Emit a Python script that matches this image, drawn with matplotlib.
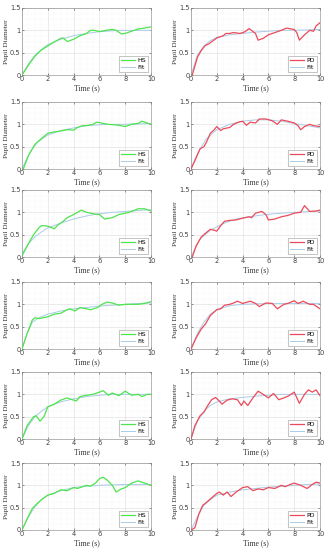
import matplotlib
matplotlib.use("Agg")
from matplotlib import pyplot as plt
from matplotlib.ticker import MultipleLocator

# ---- data (time in s, diameter normalised) ----
hs1_t = [0, 0.5, 1.0, 1.5, 2.0, 2.5, 3.0, 3.2, 3.5, 4.0, 4.5, 5.0, 5.3, 5.6, 6.0, 6.5, 7.0, 7.3, 7.7, 8.0, 8.5, 9.0, 9.5, 10]
hs1_y = [0, 0.22, 0.42, 0.56, 0.65, 0.74, 0.82, 0.83, 0.75, 0.8, 0.88, 0.93, 1.0, 1.0, 0.97, 1.0, 1.02, 1.0, 0.92, 0.93, 0.98, 1.03, 1.05, 1.08]
fit1_t = [0, 0.5, 1, 1.5, 2, 3, 4, 5, 6, 7, 8, 9, 10]
fit1_y = [0, 0.25, 0.44, 0.57, 0.68, 0.8, 0.88, 0.93, 0.97, 0.99, 1.0, 1.0, 1.0]

pd1_t = [0.1, 0.5, 0.8, 1.1, 1.4, 2.0, 2.5, 2.7, 3.0, 3.3, 3.8, 4.2, 4.5, 5.0, 5.2, 5.6, 6.0, 6.5, 7.0, 7.4, 8.0, 8.2, 8.4, 8.8, 9.2, 9.5, 9.7, 10]
pd1_y = [0, 0.4, 0.55, 0.66, 0.7, 0.83, 0.88, 0.93, 0.93, 0.95, 0.93, 0.97, 1.04, 0.93, 0.78, 0.82, 0.9, 0.95, 1.0, 1.05, 1.02, 0.95, 0.78, 0.9, 1.0, 0.98, 1.1, 1.17]
fit2_t = [0, 0.5, 1, 1.5, 2, 3, 4, 5, 6, 7, 8, 9, 10]
fit2_y = [0, 0.45, 0.65, 0.77, 0.84, 0.9, 0.93, 0.96, 0.98, 1.0, 1.0, 1.01, 1.02]

hs2_t = [0.1, 0.5, 1.0, 1.5, 2.0, 2.5, 3.0, 3.5, 4.0, 4.3, 4.7, 5.0, 5.5, 5.8, 6.3, 6.7, 7.5, 8.0, 8.5, 9.0, 9.3, 9.7, 10]
hs2_y = [0, 0.3, 0.55, 0.68, 0.8, 0.83, 0.85, 0.88, 0.87, 0.93, 0.97, 0.97, 1.0, 1.05, 1.02, 1.0, 0.98, 0.95, 1.0, 1.02, 1.07, 1.03, 1.0]
fit3_t = [0, 0.4, 0.8, 1.2, 2, 3, 4, 5, 6, 7, 8, 9, 10]
fit3_y = [0, 0.25, 0.45, 0.6, 0.76, 0.86, 0.92, 0.97, 0.99, 1.0, 1.0, 1.01, 1.02]

pd2_t = [0, 0.4, 0.7, 1.0, 1.2, 1.5, 1.8, 2.0, 2.3, 2.5, 3.0, 3.3, 3.7, 4.0, 4.3, 4.6, 5.0, 5.3, 5.8, 6.3, 6.7, 7.0, 7.5, 8.0, 8.3, 8.5, 8.8, 9.2, 9.5, 10]
pd2_y = [0, 0.25, 0.45, 0.5, 0.6, 0.8, 0.88, 0.95, 0.86, 0.9, 0.93, 1.0, 1.05, 1.07, 0.98, 1.05, 1.03, 1.12, 1.12, 1.08, 1.0, 1.1, 1.07, 1.03, 0.97, 0.88, 0.95, 1.0, 0.97, 0.95]
fit4_t = [0, 0.4, 0.7, 1.2, 2, 3, 4, 5, 6, 7, 8, 9, 10]
fit4_y = [0, 0.28, 0.45, 0.68, 0.88, 1.0, 1.07, 1.1, 1.1, 1.07, 1.02, 0.97, 0.92]

hs3_t = [0, 0.5, 0.9, 1.3, 1.5, 1.8, 2.2, 2.5, 2.8, 3.2, 3.5, 4.0, 4.3, 4.6, 5.0, 5.5, 6.0, 6.4, 7.0, 7.5, 8.0, 8.5, 9.0, 9.5, 10]
hs3_y = [0.05, 0.3, 0.5, 0.65, 0.7, 0.7, 0.67, 0.63, 0.72, 0.8, 0.88, 0.95, 1.0, 1.05, 1.0, 0.97, 0.95, 0.85, 0.88, 0.95, 0.98, 1.02, 1.08, 1.08, 1.03]
fit5_t = [0, 0.5, 1, 1.5, 2, 3, 4, 5, 6, 7, 8, 9, 10]
fit5_y = [0, 0.3, 0.45, 0.56, 0.65, 0.76, 0.85, 0.92, 0.97, 1.0, 1.02, 1.04, 1.06]

pd3_t = [0.1, 0.4, 0.8, 1.2, 1.5, 1.8, 2.0, 2.3, 2.6, 3.0, 3.5, 4.0, 4.5, 4.7, 5.0, 5.5, 5.8, 6.0, 6.5, 7.0, 7.5, 8.0, 8.5, 8.8, 9.2, 9.7, 10]
pd3_y = [0, 0.25, 0.45, 0.55, 0.62, 0.6, 0.58, 0.7, 0.8, 0.82, 0.83, 0.87, 0.9, 0.88, 0.98, 1.02, 0.95, 0.83, 0.85, 0.9, 0.93, 0.98, 1.0, 1.15, 1.02, 1.03, 1.05]
fit6_t = [0, 0.7, 1.5, 2.5, 3.5, 4.5, 5.5, 6.5, 8, 10]
fit6_y = [0, 0.4, 0.6, 0.75, 0.85, 0.9, 0.94, 0.97, 1.0, 1.03]

hs4_t = [0, 0.4, 0.8, 1.0, 1.3, 2.0, 2.5, 3.0, 3.5, 3.7, 4.1, 4.5, 5.0, 5.3, 5.8, 6.2, 6.6, 7.0, 7.5, 8.0, 9.0, 9.5, 10]
hs4_y = [0, 0.35, 0.65, 0.7, 0.68, 0.72, 0.78, 0.8, 0.88, 0.9, 0.85, 0.93, 0.9, 0.88, 0.92, 1.0, 1.05, 1.03, 0.98, 1.0, 1.0, 1.02, 1.06]
fit7_t = [0, 0.4, 0.8, 1.3, 2, 3, 4, 5, 6, 7, 8, 9, 10]
fit7_y = [0, 0.35, 0.6, 0.7, 0.78, 0.85, 0.9, 0.93, 0.96, 0.98, 1.0, 1.02, 1.03]

pd4_t = [0, 0.4, 0.8, 1.1, 1.5, 2.0, 2.3, 2.6, 3.0, 3.3, 3.6, 4.0, 4.6, 5.0, 5.3, 5.8, 6.3, 6.7, 7.2, 7.5, 8.0, 8.3, 8.7, 9.2, 9.5, 10]
pd4_y = [0, 0.25, 0.45, 0.55, 0.75, 0.88, 0.9, 0.98, 1.0, 1.03, 1.07, 1.02, 1.07, 1.02, 0.95, 1.03, 1.02, 0.9, 1.0, 1.02, 1.08, 1.02, 1.07, 1.0, 1.0, 0.9]
fit8_t = [0, 0.5, 1, 1.5, 2, 3, 4, 5, 6, 7, 8, 9, 10]
fit8_y = [0, 0.35, 0.6, 0.78, 0.88, 0.97, 1.0, 1.01, 1.02, 1.02, 1.02, 1.02, 1.02]

hs5_t = [0, 0.4, 0.9, 1.1, 1.4, 1.7, 2.0, 2.5, 3.0, 3.5, 4.2, 4.5, 5.0, 5.5, 6.0, 6.3, 6.7, 7.0, 7.5, 8.0, 8.5, 9.0, 9.3, 9.7, 10]
hs5_y = [0, 0.3, 0.5, 0.52, 0.4, 0.5, 0.72, 0.78, 0.87, 0.92, 0.85, 0.95, 0.98, 1.0, 1.05, 1.08, 0.98, 1.03, 0.97, 1.07, 0.98, 1.0, 0.95, 1.0, 1.0]
fit9_t = [0, 0.5, 1, 1.5, 2, 3, 4, 5, 6, 7, 8, 9, 10]
fit9_y = [0, 0.3, 0.5, 0.62, 0.72, 0.83, 0.9, 0.95, 0.98, 1.0, 1.0, 1.0, 1.0]

pd5_t = [0, 0.3, 0.7, 1.0, 1.3, 1.6, 1.9, 2.2, 2.4, 2.8, 3.2, 3.6, 3.9, 4.1, 4.4, 4.8, 5.2, 5.6, 6.0, 6.4, 6.8, 7.2, 7.6, 8.0, 8.4, 8.8, 9.1, 9.4, 9.7, 10]
pd5_y = [0, 0.3, 0.52, 0.6, 0.75, 0.88, 0.93, 0.85, 0.78, 0.87, 0.9, 0.88, 0.75, 0.85, 0.75, 0.92, 1.07, 1.0, 0.92, 1.02, 0.88, 0.92, 0.97, 1.05, 0.8, 1.0, 1.1, 1.05, 1.1, 0.97]
fit10_t = [0, 0.5, 1, 1.5, 2, 3, 4, 5, 6, 7, 8, 9, 10]
fit10_y = [0, 0.4, 0.62, 0.75, 0.83, 0.9, 0.93, 0.96, 0.98, 1.0, 1.0, 1.0, 1.0]

hs6_t = [0, 0.4, 0.8, 1.2, 1.6, 2.0, 2.5, 3.0, 3.5, 4.0, 4.3, 5.0, 5.3, 5.7, 6.0, 6.3, 6.6, 7.0, 7.3, 7.7, 8.0, 8.5, 9.0, 9.5, 10]
hs6_y = [0, 0.25, 0.48, 0.6, 0.7, 0.78, 0.82, 0.9, 0.88, 0.95, 0.93, 1.0, 0.98, 1.05, 1.15, 1.18, 1.12, 1.0, 0.85, 0.92, 0.95, 1.05, 1.1, 1.05, 1.0]
fit11_t = [0, 0.5, 1, 1.5, 2, 3, 4, 5, 6, 7, 8, 9, 10]
fit11_y = [0, 0.3, 0.52, 0.68, 0.78, 0.88, 0.95, 0.98, 1.0, 1.01, 1.02, 1.02, 1.02]

pd6_t = [0, 0.3, 0.6, 0.9, 1.2, 1.6, 2.0, 2.2, 2.5, 2.8, 3.1, 3.5, 4.0, 4.4, 4.8, 5.2, 5.6, 6.0, 6.5, 7.0, 7.3, 7.7, 8.0, 8.5, 9.0, 9.4, 9.7, 10]
pd6_y = [0, 0.05, 0.35, 0.55, 0.62, 0.72, 0.82, 0.85, 0.78, 0.85, 0.75, 0.85, 0.95, 0.97, 0.88, 0.92, 0.9, 0.95, 0.93, 1.0, 0.97, 1.02, 1.05, 1.0, 0.93, 1.02, 1.07, 1.05]
fit12_t = [0, 0.5, 1, 1.5, 2, 3, 4, 5, 6, 7, 8, 9, 10]
fit12_y = [0, 0.3, 0.55, 0.68, 0.78, 0.85, 0.9, 0.93, 0.96, 0.98, 1.0, 1.02, 1.03]

hs_runs = [(hs1_t, hs1_y, fit1_t, fit1_y), (hs2_t, hs2_y, fit3_t, fit3_y),
           (hs3_t, hs3_y, fit5_t, fit5_y), (hs4_t, hs4_y, fit7_t, fit7_y),
           (hs5_t, hs5_y, fit9_t, fit9_y), (hs6_t, hs6_y, fit11_t, fit11_y)]
pd_runs = [(pd1_t, pd1_y, fit2_t, fit2_y), (pd2_t, pd2_y, fit4_t, fit4_y),
           (pd3_t, pd3_y, fit6_t, fit6_y), (pd4_t, pd4_y, fit8_t, fit8_y),
           (pd5_t, pd5_y, fit10_t, fit10_y), (pd6_t, pd6_y, fit12_t, fit12_y)]

W, H = 328, 550
row_top = [8, 102, 190, 282, 372, 463]
row_h = 67
col_left = [22, 191]
col_w = 129

green = "#4ee44e"
red = "#ec4a5a"
fitc = "#a8cce8"
serif = "Liberation Serif"

fig = plt.figure(figsize=(W / 100, H / 100), dpi=100)

def panel(ax, t, y, ft, fy, color, name):
    ax.plot(ft, fy, color=fitc, lw=0.7, label="Fit", zorder=2)
    ax.plot(t, y, color=color, lw=0.9, label=name, zorder=3)
    ax.set_xlim(0, 10)
    ax.set_ylim(0, 1.5)
    ax.xaxis.set_major_locator(MultipleLocator(2))
    ax.yaxis.set_major_locator(MultipleLocator(0.5))
    ax.xaxis.set_minor_locator(MultipleLocator(0.5))
    ax.yaxis.set_minor_locator(MultipleLocator(0.125))
    ax.yaxis.set_major_formatter(plt.FuncFormatter(lambda v, p: "%g" % v))
    ax.grid(which="major", color="#dcdcdc", lw=0.4)
    ax.grid(which="minor", color="#ececec", lw=0.3, ls=":")
    ax.tick_params(which="both", direction="in", labelsize=4.8, length=1.5, width=0.4,
                   pad=1.0, top=True, right=True, colors="#404040")
    ax.tick_params(which="minor", length=0)
    for s in ax.spines.values():
        s.set_linewidth(0.4)
        s.set_color("#808080")
    ax.set_xlabel("Time (s)", fontsize=5.5, family=serif, labelpad=1, color="#333333")
    ax.set_ylabel("Pupil Diameter", fontsize=5.2, family=serif, color="#333333")
    ax.yaxis.set_label_coords(-0.1, 0.5)
    h, l = ax.get_legend_handles_labels()
    leg = ax.legend(h[::-1], l[::-1], loc="lower right", fontsize=4.5, handlelength=2.2,
                    borderpad=0.3, labelspacing=0.2, handletextpad=0.4,
                    fancybox=False, framealpha=1, edgecolor="#999999")
    leg.get_frame().set_linewidth(0.4)

for r in range(6):
    for c, runs, color, name in [(0, hs_runs, green, "HS"), (1, pd_runs, red, "PD")]:
        left = col_left[c] / W
        bottom = 1 - (row_top[r] + row_h) / H
        ax = fig.add_axes([left, bottom, col_w / W, row_h / H])
        t, y, ft, fy = runs[r]
        panel(ax, t, y, ft, fy, color, name)

fig.savefig("out.png", dpi=100)
